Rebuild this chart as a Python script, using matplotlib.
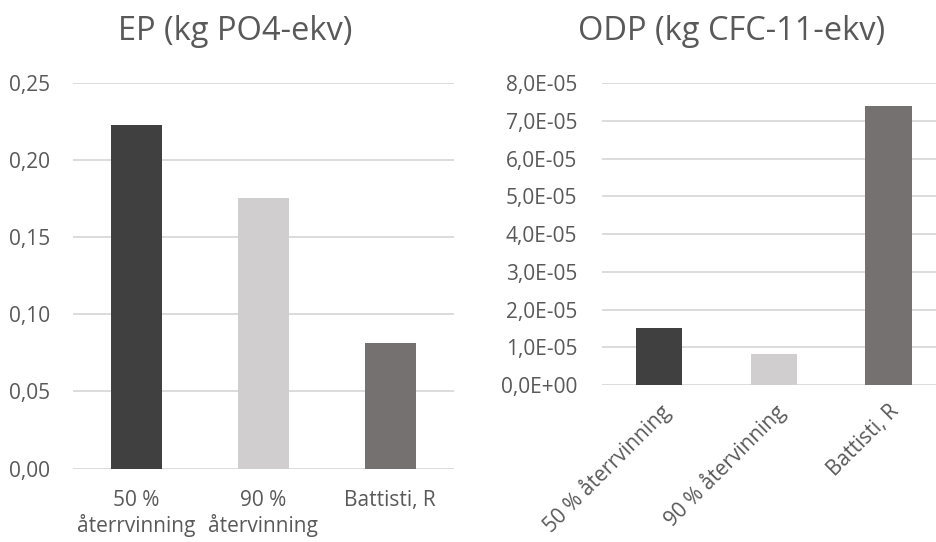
import matplotlib
matplotlib.use("Agg")
import matplotlib.pyplot as plt
from matplotlib.ticker import FuncFormatter, MultipleLocator

plt.rcParams['font.family'] = ['Open Sans', 'DejaVu Sans']

# Data
ep_labels = ["50 %\nåterrvinning", "90 %\nåtervinning", "Battisti, R"]
ep_values = [0.2228, 0.1755, 0.0816]

odp_labels = ["50 % återrvinning", "90 % återvinning", "Battisti, R"]
odp_values = [1.52e-05, 0.83e-05, 7.39e-05]

bar_colors = ["#404040", "#D0CECE", "#767171"]
text_color = "#595959"
grid_color = "#D9D9D9"

W, H = 936, 542
fig = plt.figure(figsize=(W / 100, H / 100), dpi=100)


def px_axes(x0, y_top, x1, y_bot):
    return fig.add_axes([x0 / W, 1 - y_bot / H, (x1 - x0) / W, (y_bot - y_top) / H])


def style(ax, ypad):
    for s in ax.spines.values():
        s.set_visible(False)
    ax.set_axisbelow(True)
    ax.yaxis.grid(True, color=grid_color, linewidth=1.3)
    ax.tick_params(axis='both', length=0, colors=text_color, labelsize=15)
    ax.tick_params(axis='y', pad=ypad)


# EP panel
ax1 = px_axes(72.7, 83.3, 453.7, 468.5)
x1 = range(len(ep_values))
ax1.bar(x1, ep_values, width=0.4, color=bar_colors)
ax1.set_xlim(-0.5, 2.5)
ax1.set_ylim(0, 0.25)
ax1.yaxis.set_major_locator(MultipleLocator(0.05))
ax1.yaxis.set_major_formatter(FuncFormatter(lambda v, p: f"{v:.2f}".replace('.', ',')))
ax1.set_xticks(list(x1))
ax1.set_xticklabels(ep_labels, linespacing=1.15)
style(ax1, 16)
ax1.tick_params(axis='x', pad=15.5)

# ODP panel
ax2 = px_axes(601.7, 83.3, 946.1, 385.0)
x2 = range(len(odp_values))
ax2.bar(x2, odp_values, width=0.407, color=bar_colors)
ax2.set_xlim(-0.5, 2.5)
ax2.set_ylim(0, 8e-05)
ax2.yaxis.set_major_locator(MultipleLocator(1e-05))
ax2.yaxis.set_major_formatter(FuncFormatter(lambda v, p: f"{v:.1E}".replace('.', ',')))
ax2.set_xticks(list(x2))
ax2.set_xticklabels(odp_labels, rotation=45, ha='right', va='top', rotation_mode='anchor')
style(ax2, 17.5)
ax2.tick_params(axis='x', pad=11)

fig.text(235 / W, 1 - 40 / H, "EP (kg PO4-ekv)", ha='center', va='baseline',
         fontsize=23.5, color=text_color)
fig.text(731.7 / W, 1 - 40 / H, "ODP (kg CFC-11-ekv)", ha='center', va='baseline',
         fontsize=23.5, color=text_color)

fig.savefig("out.png", dpi=100)
